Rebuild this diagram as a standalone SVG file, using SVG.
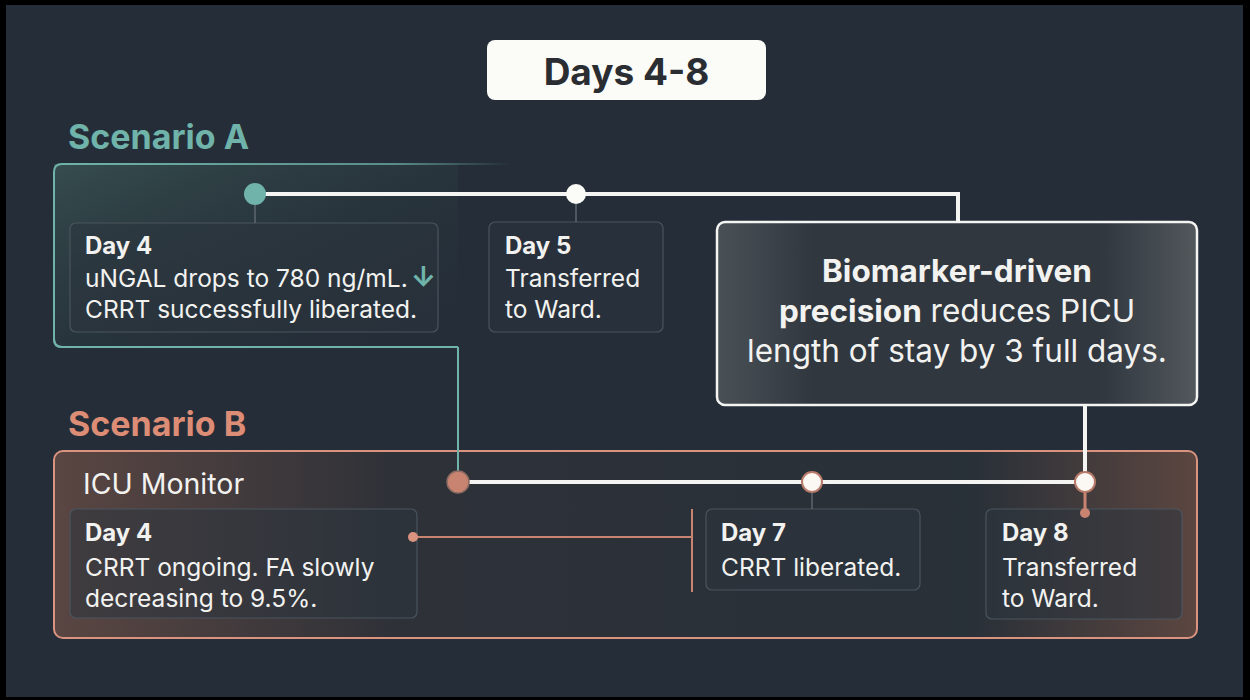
<svg xmlns="http://www.w3.org/2000/svg" width="1250" height="700" viewBox="0 0 1250 700">
<defs>
<style>
.t{font-family:Inter,"Liberation Sans",sans-serif;fill:#f2f2f0}
.b{font-weight:700}
.body{font-size:24.5px}
.hd{font-size:24px;font-weight:700}
.card{fill:#2b343e;fill-opacity:0.55;stroke:#4a545e;stroke-width:1.2}
.wl{stroke:#f4f4f2;stroke-width:4;fill:none}
.thin{stroke:#6a747c;stroke-width:1.2;fill:none}
</style>
<linearGradient id="tealFade" x1="0" y1="0" x2="1" y2="0">
<stop offset="0" stop-color="#6fb3aa"/>
<stop offset="0.75" stop-color="#6fb3aa" stop-opacity="0.7"/>
<stop offset="1" stop-color="#6fb3aa" stop-opacity="0"/>
</linearGradient>
<linearGradient id="aFill" x1="0" y1="0" x2="1" y2="1">
<stop offset="0" stop-color="#3d5a58" stop-opacity="0.7"/>
<stop offset="0.6" stop-color="#2a3a40" stop-opacity="0.3"/>
<stop offset="1" stop-color="#252e38" stop-opacity="0"/>
</linearGradient>
<linearGradient id="bFill" x1="0" y1="0" x2="1" y2="0">
<stop offset="0" stop-color="#5a4642"/>
<stop offset="0.3" stop-color="#2e3138"/>
<stop offset="0.8" stop-color="#283038"/>
<stop offset="1" stop-color="#5c4640"/>
</linearGradient>
<linearGradient id="cFill" x1="0" y1="0" x2="1" y2="0">
<stop offset="0" stop-color="#4a5156"/>
<stop offset="0.2" stop-color="#30373f"/>
<stop offset="0.8" stop-color="#30373f"/>
<stop offset="1" stop-color="#52585c"/>
</linearGradient>
</defs>
<rect width="1250" height="700" fill="#000"/>
<rect x="6" y="5" width="1237" height="692" fill="#252e38"/>

<g id="title">
<rect x="487" y="40" width="279" height="60" rx="8" fill="#fbfbf8"/>
<text class="t b" x="626.500" y="85" font-size="37" text-anchor="middle" style="fill:#2a2d31">Days 4-8</text>
</g>

<g id="scenarioA">
<rect x="54" y="164" width="404" height="183" fill="url(#aFill)"/>
<path d="M510 164 H62 Q54 164 54 172 V339 Q54 347 62 347 H458" fill="none" stroke="url(#tealFade)" stroke-width="2"/>
<path d="M54 172 V339 Q54 347 62 347 H458" fill="none" stroke="#6fb3aa" stroke-width="2"/>
<text class="t b" x="68" y="149" font-size="34" style="fill:#6fb3aa">Scenario A</text>
</g>

<g id="scenarioB">
<rect x="54" y="451" width="1143" height="187" rx="9" fill="url(#bFill)" stroke="#d9937f" stroke-width="2"/>
<text class="t b" x="68" y="436" font-size="34" style="fill:#dd8c76">Scenario B</text>
<text class="t" x="83" y="494" font-size="28.500">ICU Monitor</text>
</g>

<g id="a-day4">
<rect class="card" x="70" y="223" width="368" height="109" rx="6"/>
<text class="t hd" x="85" y="254">Day 4</text>
<text class="t body" x="85" y="287">uNGAL drops to 780 ng/mL.<tspan style="fill:#6fb3aa" font-size="28" font-weight="700" dx="3">↓</tspan></text>
<text class="t body" x="85" y="318">CRRT successfully liberated.</text>
</g>

<g id="a-day5">
<rect class="card" x="489" y="222" width="174" height="110" rx="6"/>
<text class="t hd" x="505" y="254">Day 5</text>
<text class="t body" x="505" y="287">Transferred</text>
<text class="t body" x="505" y="318">to Ward.</text>
</g>

<g id="callout">
<rect x="717" y="222" width="480" height="183" rx="8" fill="url(#cFill)" stroke="#f4f4f2" stroke-width="2.5"/>
<text class="t b" x="957" y="282" font-size="31.500" text-anchor="middle">Biomarker-driven</text>
<text class="t" x="957" y="322" font-size="31.500" text-anchor="middle"><tspan font-weight="700">precision</tspan> reduces PICU</text>
<text class="t" x="957" y="362" font-size="31.500" text-anchor="middle">length of stay by 3 full days.</text>
</g>

<g id="b-day4">
<rect class="card" x="70" y="509" width="347" height="109" rx="6"/>
<text class="t hd" x="85" y="541">Day 4</text>
<text class="t body" x="85" y="576">CRRT ongoing. FA slowly</text>
<text class="t body" x="85" y="607">decreasing to 9.5%.</text>
</g>

<g id="b-day7">
<rect class="card" x="706" y="509" width="214" height="81" rx="6"/>
<text class="t hd" x="721" y="541">Day 7</text>
<text class="t body" x="721" y="576">CRRT liberated.</text>
</g>

<g id="b-day8">
<rect class="card" x="986" y="509" width="196" height="110" rx="6"/>
<text class="t hd" x="1002" y="541">Day 8</text>
<text class="t body" x="1002" y="576">Transferred</text>
<text class="t body" x="1002" y="607">to Ward.</text>
</g>

<g id="connectors">
<path d="M458 347 V482" stroke="#6fb3aa" stroke-width="2" fill="none"/>
<path class="wl" d="M255 194 H958 V222"/>
<path class="thin" d="M255 194 V223"/>
<path class="thin" d="M576 194 V222"/>
<path class="wl" d="M1085 405 V482"/>
<path class="wl" d="M458 482 H1085"/>
<path class="thin" d="M812 482 V509"/>
<path d="M1085 482 V512" stroke="#c88470" stroke-width="3" fill="none"/>
<path d="M413 537 H692 M692 509 V592" stroke="#c88470" stroke-width="2" fill="none"/>
<circle cx="255" cy="194" r="11" fill="#6fb3aa"/>
<circle cx="576" cy="194" r="10" fill="#fbfbf8"/>
<circle cx="458" cy="482" r="11" fill="#c88470" stroke="#8a6a62" stroke-width="1.5"/>
<circle cx="812" cy="482" r="10" fill="#fbf7f2" stroke="#b87b6a" stroke-width="2"/>
<circle cx="1085" cy="482" r="10" fill="#fbf7f2" stroke="#b87b6a" stroke-width="2"/>
<circle cx="1085" cy="513" r="5" fill="#c88470"/>
<circle cx="413" cy="537" r="5" fill="#d9937f"/>
</g>
</svg>
